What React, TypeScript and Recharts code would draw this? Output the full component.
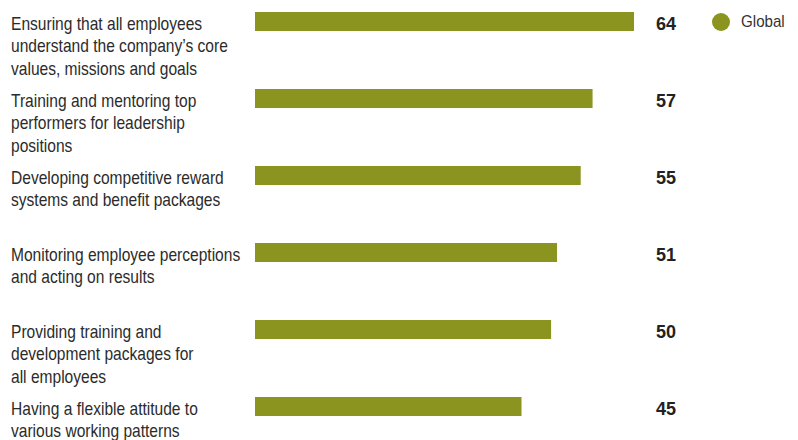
import React from 'react';
import { BarChart, Bar, XAxis, YAxis, LabelList } from 'recharts';

const categories: string[][] = [
  ['Ensuring that all employees', 'understand the company\u2019s core', 'values, missions and goals'],
  ['Training and mentoring top', 'performers for leadership', 'positions'],
  ['Developing competitive reward', 'systems and benefit packages'],
  ['Monitoring employee perceptions', 'and acting on results'],
  ['Providing training and', 'development packages for', 'all employees'],
  ['Having a flexible attitude to', 'various working patterns'],
];
const globalValues: number[] = [64, 57, 55, 51, 50, 45];
const seriesName = 'Global';

const data = categories.map((lines, i) => ({ name: lines.join('\n'), value: globalValues[i] }));

const FONT = '"Liberation Sans", Arial, sans-serif';
const BAR_COLOR = '#8C9420';
const SQUEEZE = 0.89;

const CategoryTick = (props: any) => {
  const { y, payload } = props;
  const lines = String(payload.value).split('\n');
  return (
    <g transform={`translate(11, ${y + 8}) scale(${SQUEEZE}, 1)`}>
      <text x={0} y={0} textAnchor="start" fontFamily={FONT} fontSize={17.5} fill="#2b2b2b">
        {lines.map((l, i) => (
          <tspan key={i} x={0} dy={i === 0 ? 0 : 23}>{l}</tspan>
        ))}
      </text>
    </g>
  );
};

const ValueLabel = (props: any) => {
  const { y, height, value } = props;
  return (
    <text x={676} y={y + height / 2 + 8} textAnchor="end" fontFamily={FONT} fontWeight="bold" fontSize={18} fill="#222">
      {value}
    </text>
  );
};

export default function App() {
  return (
    <div style={{ position: 'absolute', left: 0, top: -17, width: 798, height: 462 }}>
      <BarChart
        width={798}
        height={462}
        data={data}
        layout="vertical"
        margin={{ top: 0, right: 10, bottom: 0, left: 0 }}
      >
        <XAxis type="number" domain={[0, 90]} hide />
        <YAxis
          type="category"
          dataKey="name"
          width={255}
          axisLine={false}
          tickLine={false}
          tick={<CategoryTick />}
          interval={0}
        />
        <Bar dataKey="value" name={seriesName} fill={BAR_COLOR} barSize={19} isAnimationActive={false}>
          <LabelList dataKey="value" content={<ValueLabel />} />
        </Bar>
      </BarChart>
      <div
        style={{
          position: 'absolute',
          left: 711,
          top: 29,
          display: 'flex',
          alignItems: 'center',
          fontFamily: FONT,
          fontSize: 17,
          color: '#333',
        }}
      >
        <svg width={20} height={20} style={{ marginRight: 10 }}>
          <circle cx={10} cy={10} r={9} fill={BAR_COLOR} />
        </svg>
        <span style={{ display: 'inline-block', transform: `scaleX(${SQUEEZE})`, transformOrigin: 'left center' }}>
          {seriesName}
        </span>
      </div>
    </div>
  );
}
